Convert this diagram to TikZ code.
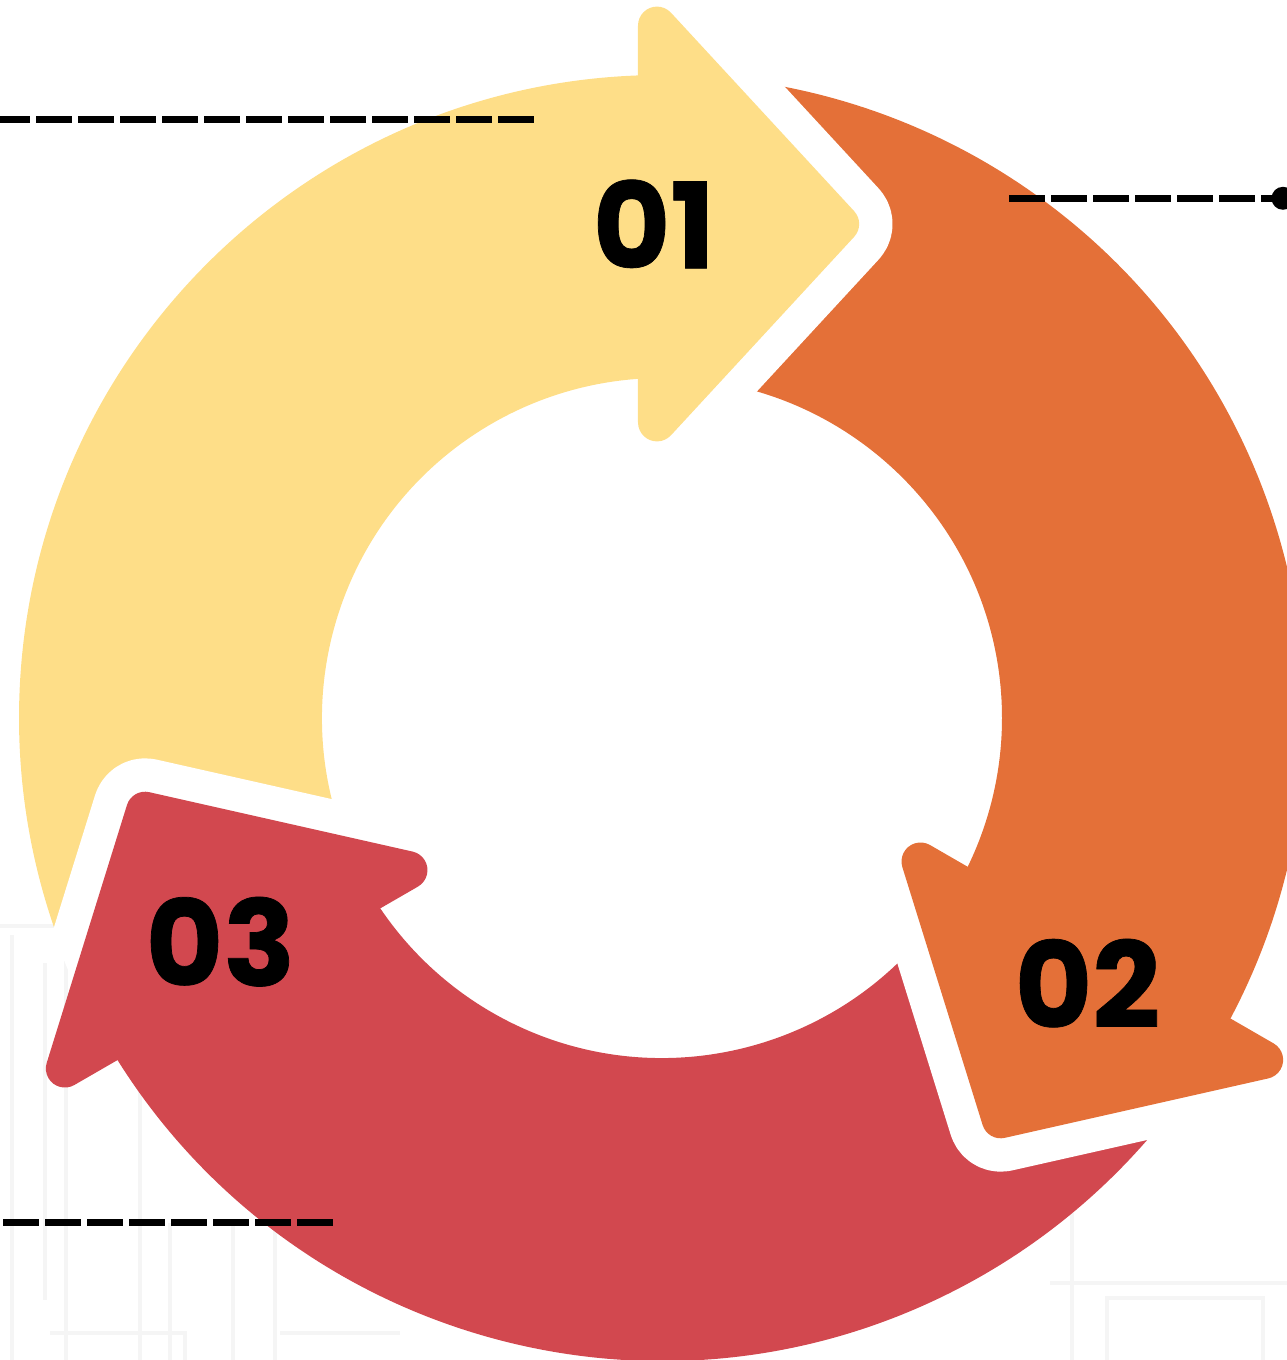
\documentclass[tikz,border=0pt]{standalone}
\usepackage{fontspec}
\newfontfamily\numfont{Poppins}[FakeBold=0.6]
\definecolor{cyel}{HTML}{FEDE88}
\definecolor{corg}{HTML}{E47038}
\definecolor{cred}{HTML}{D2484F}
\tikzset{
  sketch/.style={draw=black!4, line width=3.5pt},
  leader/.style={draw=black, line width=6.5pt, dash pattern=on 36pt off 6pt},
  gapstroke/.style={draw=white, line width=66.8pt, line cap=butt, line join=round},
  numlabel/.style={font=\numfont\bfseries\fontsize{119}{119}\selectfont, inner sep=0pt, text=black},
  enddot/.style={circle, fill=black, inner sep=0pt, minimum size=23pt},
}
\def\bodyshape{(87.5:643) arc[start angle=87.5,end angle=211,radius=643pt] -- (211:340) arc[start angle=211,end angle=87.5,radius=340pt] -- cycle}
\def\headshape{(-24,295.6) -- (-24,692.4) arc[start angle=180,end angle=42.7,radius=19pt] -- (192.17,506.82) arc[start angle=42.7,end angle=-42.7,radius=18.9pt] -- (8.97,282.72) arc[start angle=-42.7,end angle=-180,radius=19pt] -- cycle}
\def\frontpath{(8.97,705.28) -- (192.17,506.82) arc[start angle=42.7,end angle=-42.7,radius=18.9pt] -- (8.97,282.72)}
\begin{document}
\begin{tikzpicture}[x=1pt,y=1pt]
\useasboundingbox (-662,-642) rectangle (625,718);
% faint background sketch
\draw[sketch] (-662,-208) -- (-592,-208);
\draw[sketch] (-596,-208) -- (-596,-642);
\draw[sketch] (-617,-245) -- (-617,-582);
\draw[sketch] (-650,-217) -- (-650,-642);
\draw[sketch] (-522,-372) -- (-522,-642);
\draw[sketch] (-612,-615) -- (-477,-615) -- (-477,-642);
\draw[sketch] (-492,-505) -- (-492,-642);
\draw[sketch] (-429,-505) -- (-429,-642);
\draw[sketch] (-387,-502) -- (-387,-642);
\draw[sketch] (-382,-615) -- (-262,-615);
\draw[sketch] (410,-495) -- (410,-642);
\draw[sketch] (388,-565) -- (625,-565);
\draw[sketch] (445,-642) -- (445,-580) -- (601,-580) -- (601,-642);
% bodies
\fill[cyel] \bodyshape;
\begin{scope}[rotate=-120]\fill[corg] \bodyshape;\end{scope}
\begin{scope}[rotate=-240]\fill[cred] \bodyshape;\end{scope}
% white gaps in front of each head
\begin{scope}
  \clip (0,0) circle[radius=645pt];
  \draw[gapstroke] \frontpath;
  \begin{scope}[rotate=-120]\draw[gapstroke] \frontpath;\end{scope}
  \begin{scope}[rotate=-240]\draw[gapstroke] \frontpath;\end{scope}
\end{scope}
% heads
\fill[cyel] \headshape;
\begin{scope}[rotate=-120]\fill[corg] \headshape;\end{scope}
\begin{scope}[rotate=-240]\fill[cred] \headshape;\end{scope}
% numbers
\node[numlabel] (n1) at (-8,494) {01};
\node[numlabel] (n2) at (425.5,-265.3) {02};
\node[numlabel] (n3) at (-441.5,-223.7) {03};
% leader lines
\coordinate (l1a) at (-128,598.7);
\coordinate (l1b) at (-680,598.7);
\draw[leader] (l1a) -- (l1b);
\coordinate (l2a) at (347.3,519.7);
\node[enddot] (dot2) at (621,519.7) {};
\draw[leader] (l2a) -- (dot2.center);
\coordinate (l3a) at (-658.7,-504.3);
\coordinate (l3b) at (-328,-504.3);
\draw[leader] (l3a) -- (l3b);
\end{tikzpicture}
\end{document}
